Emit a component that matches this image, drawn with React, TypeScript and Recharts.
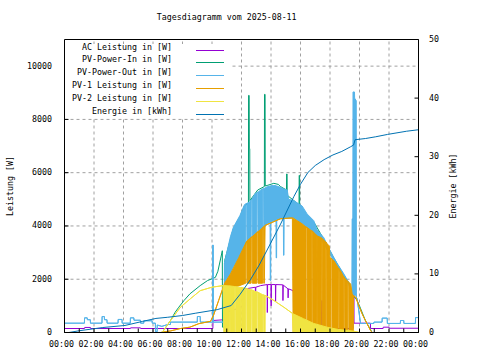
import React from 'react';
import { ComposedChart, Line, Area, XAxis, YAxis, ReferenceLine, ReferenceArea } from 'recharts';

const W = 480;
const H = 360;
const FONT = "'DejaVu Sans Mono', 'Liberation Mono', monospace";
const FS = 8.3;

const chartTitle = 'Tagesdiagramm vom 2025-08-11';
const leftAxisTitle = 'Leistung [W]';
const rightAxisTitle = 'Energie [kWh]';
const seriesNames = [
  'AC Leistung in [W]',
  'PV-Power-In in [W]',
  'PV-Power-Out in [W]',
  'PV-1 Leistung in [W]',
  'PV-2 Leistung in [W]',
  'Energie in [kWh]',
];
const seriesColors = ['#9400d3', '#009e73', '#56b4e9', '#e69f00', '#f0e442', '#0072b2'];

const hourTicks = [0, 1, 2, 3, 4, 5, 6, 7, 8, 9, 10, 11, 12, 13, 14, 15, 16, 17, 18, 19, 20, 21, 22, 23, 24];
const gridHours = [2, 4, 6, 8, 10, 12, 14, 16, 18, 20, 22];
const leftTicks = [0, 2000, 4000, 6000, 8000, 10000];
const gridPower = [2000, 4000, 6000, 8000, 10000];
const rightTicks = [0, 10, 20, 30, 40, 50];

// AC Leistung [W]  [hour, value]
const acPts: [number, number][] = [
  [0, 150], [1.36, 150], [1.37, 190], [1.76, 190], [1.77, 150], [4.47, 150], [4.48, 175], [5.15, 175], [5.16, 150],
  [10.06, 150], [10.07, 450], [10.85, 480], [10.9, 760], [11.37, 820], [12.1, 1000], [12.12, 1640], [12.4, 1650],
  [12.94, 1700], [12.95, 700], [12.97, 1700], [13.3, 1760], [13.74, 1800], [13.75, 750], [13.77, 1800], [14.0, 1800],
  [14.01, 1000], [14.03, 1800], [14.3, 1800], [14.31, 1150], [14.33, 1800], [14.8, 1790], [14.81, 1200], [14.83, 1780],
  [15.15, 1640], [15.16, 1300], [15.18, 1640], [15.5, 1570], [15.6, 1200], [15.8, 300], [16.5, 200], [17.4, 150],
  [17.45, 1200], [17.47, 150], [18.7, 150], [18.72, 700], [18.74, 150], [19.57, 150], [19.58, 2950], [19.62, 2950],
  [19.63, 350], [20.74, 350], [20.75, 150], [21.6, 150], [21.61, 200], [22.0, 200], [22.01, 160], [24, 160],
];

// PV-Power-In [W]
const pvInPts: [number, number][] = [
  [0, 0], [6.62, 0], [7.19, 450], [7.5, 760], [7.75, 950], [8.1, 1200], [8.5, 1450], [9.2, 1760], [9.7, 1950],
  [10.23, 2070], [10.4, 2300], [10.58, 2760], [10.7, 3070], [10.71, 200], [10.84, 200], [10.86, 2700], [11.45, 3900],
  [11.9, 4350], [12.2, 4750], [12.47, 4850], [12.48, 8900], [12.52, 8900], [12.53, 6900], [12.56, 6900], [12.57, 4950],
  [12.9, 5200], [13.1, 5350], [13.55, 5480], [13.56, 8940], [13.6, 8940], [13.61, 5500], [13.74, 5520], [14.19, 5600],
  [14.5, 5560], [14.64, 5480], [15.05, 5350], [15.06, 5950], [15.09, 5950], [15.1, 5150], [15.9, 4800], [15.91, 5900],
  [15.94, 5900], [15.95, 3070], [15.97, 4700], [16.45, 4400], [16.9, 4150], [17.58, 3500], [18.2, 2850], [18.94, 2150],
  [19.28, 1850], [19.5, 1450], [19.84, 1200], [20.0, 1000], [20.4, 450], [20.86, 0], [24, 0],
];

// PV-Power-Out [W]  [hour, upper, lower] (dense oscillation band)
const pvOutPts: [number, number, number][] = [
  [0, 350, 350], [1.35, 350, 350], [1.36, 550, 550], [1.54, 550, 550], [1.55, 480, 480], [1.75, 480, 480], [1.76, 350, 350],
  [2.54, 350, 350], [2.55, 600, 600], [2.7, 600, 600], [2.71, 480, 480], [2.88, 480, 480], [2.89, 350, 350],
  [3.63, 350, 350], [3.64, 490, 490], [3.9, 490, 490], [3.91, 350, 350],
  [4.46, 350, 350], [4.47, 550, 550], [4.7, 550, 550], [4.71, 460, 460], [5.15, 460, 460], [5.16, 350, 350],
  [5.37, 350, 350], [5.38, 440, 440], [5.94, 440, 440], [5.95, 350, 350],
  [6.16, 350, 350], [6.17, 30, 30], [6.28, 30, 30], [6.29, 280, 280], [6.6, 230, 230], [7.0, 300, 300], [7.18, 300, 300],
  [7.19, 390, 390], [9.0, 390, 390], [9.01, 600, 600], [9.2, 600, 600], [9.21, 390, 390],
  [10.04, 390, 390], [10.05, 3280, 3280], [10.08, 3280, 3280], [10.09, 390, 390],
  [10.82, 390, 390], [10.84, 2600, 1800], [11.0, 3000, 2000], [11.25, 3600, 2200], [11.45, 3950, 2450], [11.9, 4400, 2800],
  [12.2, 4800, 3200], [12.29, 4830, 3300], [12.3, 4830, 4830], [12.36, 4850, 4850], [12.37, 4850, 3350],
  [12.55, 4900, 3500], [12.65, 4980, 3560], [12.66, 4980, 4980], [12.72, 5020, 5020], [12.73, 5020, 3600],
  [12.9, 5200, 3700], [13.04, 5250, 3740], [13.05, 5250, 5250], [13.11, 5270, 5270], [13.12, 5270, 3760],
  [13.3, 5350, 3800], [13.43, 5390, 3880], [13.44, 5390, 5390], [13.5, 5400, 5400], [13.51, 5400, 3920],
  [13.74, 5470, 4080],
  [13.94, 5500, 4120], [13.95, 5500, 1950], [13.98, 5500, 1950], [13.99, 5510, 4150],
  [14.19, 5520, 4200],
  [14.34, 5510, 4220], [14.35, 5510, 2800], [14.38, 5500, 2800], [14.39, 5500, 4230],
  [14.64, 5450, 4270],
  [14.84, 5400, 4290], [14.85, 5400, 2900], [14.88, 5390, 2900], [14.89, 5390, 4290],
  [15.1, 5350, 4300], [15.2, 5000, 4300], [15.55, 4950, 4300], [15.77, 4870, 4200], [16.11, 4750, 4080],
  [16.45, 4450, 3940], [16.9, 4200, 3760], [17.13, 3850, 3600], [17.58, 3560, 3350], [17.9, 3190, 3000],
  [18.2, 2880, 2750], [18.5, 2580, 2450], [18.94, 2200, 2050], [19.28, 1870, 1800], [19.48, 1460, 1400],
  [19.5, 4270, 1400], [19.53, 4270, 1400], [19.54, 1460, 1400],
  [19.56, 9030, 1400], [19.66, 9030, 1400], [19.67, 8800, 1400], [19.78, 8700, 1400], [19.79, 1300, 1300], [19.84, 1270, 1270],
  [20.07, 340, 340], [20.97, 340, 340], [20.98, 390, 390], [21.53, 390, 390], [21.54, 540, 540], [21.88, 540, 540],
  [21.89, 340, 340], [22.77, 340, 340], [22.78, 450, 450], [23.0, 450, 450], [23.01, 340, 340], [23.79, 340, 340],
  [23.8, 560, 560], [24, 560, 560],
];

// PV-1 Leistung [W]  [hour, upper, lower]
const pv1Pts: [number, number, number][] = [
  [0, 0, 0], [6.5, 0, 0], [7.2, 60, 60], [7.86, 150, 150], [8.5, 200, 200], [9.1, 330, 330], [9.9, 420, 420],
  [10.1, 640, 640], [10.45, 1200, 1200], [10.8, 1760, 1760], [10.85, 1850, 1700], [11.25, 2200, 1700],
  [11.82, 2820, 1750], [12.29, 3360, 1850], [12.3, 3360, 3360], [12.36, 3420, 3420], [12.37, 3440, 1850],
  [12.65, 3570, 1850], [12.66, 3570, 3570], [12.72, 3600, 3600], [12.73, 3600, 1850],
  [13.04, 3750, 1850], [13.05, 3755, 3755], [13.11, 3780, 3780], [13.12, 3785, 1850],
  [13.43, 3930, 1850], [13.44, 3935, 3935], [13.5, 3970, 3970], [13.51, 3975, 1850],
  [13.55, 4000, 1850], [13.6, 4020, 4020],
  [14.64, 4270, 4270], [15.45, 4300, 4300], [15.5, 4300, 0], [15.77, 4200, 0], [16.11, 4080, 0],
  [16.37, 3960, 0], [16.38, 3960, 3960], [16.44, 3940, 3940], [16.45, 3940, 0],
  [16.75, 3820, 0], [16.76, 3820, 3820], [16.82, 3800, 3800], [16.83, 3800, 0],
  [16.9, 3760, 0],
  [17.08, 3650, 0], [17.09, 3650, 3650], [17.15, 3620, 3620], [17.16, 3620, 0],
  [17.36, 3570, 0],
  [17.41, 3550, 0], [17.42, 3550, 3550], [17.48, 3520, 3520], [17.49, 3520, 0],
  [17.7, 3400, 0], [17.71, 3400, 3400], [17.77, 3360, 3360], [17.78, 3350, 0],
  [17.81, 3330, 0], [17.95, 3250, 0], [18.0, 2800, 0],
  [18.06, 2790, 0], [18.07, 2790, 2790], [18.13, 2760, 2760], [18.14, 2750, 0],
  [18.26, 2700, 0],
  [18.56, 2420, 0], [18.57, 2420, 2420], [18.63, 2380, 2380], [18.64, 2370, 0],
  [18.71, 2320, 0],
  [18.92, 2100, 0], [18.93, 2100, 2100], [18.99, 2050, 2050], [19.0, 2040, 0],
  [19.16, 1950, 0],
  [19.2, 1920, 0], [19.21, 1920, 1920], [19.27, 1880, 1880], [19.28, 1870, 0],
  [19.4, 1830, 0], [19.5, 1460, 0], [19.58, 1380, 0], [19.6, 1380, 1380], [19.75, 1320, 1320],
  [19.95, 1010, 1010], [20.18, 700, 700], [20.4, 450, 450], [20.75, 75, 75], [20.86, 0, 0], [24, 0, 0],
];

// PV-2 Leistung [W]  [hour, upper, lower]
const pv2Pts: [number, number, number][] = [
  [0, 0, 0], [6.62, 0, 0], [7.19, 450, 450], [7.86, 950, 950], [8.54, 1270, 1270], [9.2, 1570, 1570],
  [9.99, 1700, 1700], [10.75, 1760, 1760], [10.8, 1760, 0],
  [11.18, 1750, 0], [11.19, 1750, 1750], [11.25, 1745, 1745], [11.26, 1745, 0],
  [11.53, 1725, 0], [11.54, 1725, 1725], [11.6, 1720, 1720], [11.61, 1720, 0],
  [11.82, 1700, 0],
  [11.93, 1690, 0], [11.94, 1690, 1690], [12.0, 1685, 1685], [12.01, 1685, 0],
  [12.29, 1660, 0], [12.3, 1660, 1660], [12.36, 1650, 1650], [12.37, 1650, 0],
  [12.65, 1600, 0], [12.66, 1600, 1600], [12.72, 1590, 1590], [12.73, 1590, 0],
  [13.04, 1520, 0], [13.05, 1520, 1520], [13.11, 1510, 1510], [13.12, 1510, 0],
  [13.3, 1460, 0],
  [13.43, 1420, 0], [13.44, 1420, 1420], [13.5, 1410, 1410], [13.51, 1410, 0],
  [13.6, 1390, 0], [13.61, 1390, 1390],
  [14.2, 1200, 1200], [14.87, 950, 950], [15.45, 720, 720], [15.5, 700, 0], [16.2, 520, 0], [16.9, 340, 0],
  [17.8, 200, 0], [18.5, 120, 0], [19.5, 60, 0], [19.6, 50, 50], [20.0, 0, 0], [24, 0, 0],
];

// Energie [kWh]
const energyPts: [number, number][] = [
  [0, 0], [0.3, 0], [1.0, 0.3], [2.6, 0.85], [4.1, 1.2], [5.3, 1.9], [6.2, 2.4], [7.0, 2.6], [8.0, 2.9], [8.9, 3.3],
  [10.35, 3.9], [11.3, 4.6], [11.9, 6.5], [12.6, 9.0], [13.2, 11.5], [13.7, 13.9], [14.65, 18.5], [15.55, 23.2],
  [16.0, 25.3], [16.5, 27.3], [17.0, 28.5], [17.6, 29.5], [18.2, 30.3], [18.8, 30.9], [19.4, 31.7], [19.6, 32.0],
  [19.7, 32.9], [20.4, 33.1], [21.1, 33.4], [21.9, 33.8], [23.2, 34.35], [24, 34.6],
];

const hhmm = (h: number) => `${String(h % 24).padStart(2, '0')}:00`;

const XTick = (props: any) => {
  const { x, y, payload } = props;
  if (payload.value % 2 !== 0) return <g />;
  return (
    <text x={x - 3} y={y} textAnchor="middle" fontFamily={FONT} fontSize={FS} fill="#000">
      {hhmm(payload.value)}
    </text>
  );
};
const LTick = (props: any) => {
  const { x, y, payload } = props;
  return (
    <text x={x} y={y + 2.5} textAnchor="end" fontFamily={FONT} fontSize={FS} fill="#000">
      {payload.value}
    </text>
  );
};
const RTick = (props: any) => {
  const { x, y, payload } = props;
  return (
    <text x={x} y={y + 2.5} textAnchor="start" fontFamily={FONT} fontSize={FS} fill="#000">
      {payload.value}
    </text>
  );
};

const legendBaselines = [49.5, 62.4, 75.2, 88.1, 100.9, 113.8];

export default function App() {
  const acData = acPts.map(([t, v]) => ({ t, v }));
  const pvInData = pvInPts.map(([t, v]) => ({ t, v }));
  const pvOutData = pvOutPts.map(([t, hi, lo]) => ({ t, v: [lo, hi] }));
  const pv1Data = pv1Pts.map(([t, hi, lo]) => ({ t, v: [lo, hi] }));
  const pv2Data = pv2Pts.map(([t, hi, lo]) => ({ t, v: [lo, hi] }));
  const energyData = energyPts.map(([t, v]) => ({ t, v }));

  return (
    <div style={{ position: 'absolute', left: 0, top: 0, width: W, height: H, background: '#fff' }}>
      <ComposedChart width={W} height={H} margin={{ top: 39.5, right: 0, bottom: 0, left: 0 }}>
        <XAxis
          xAxisId="b"
          type="number"
          dataKey="t"
          domain={[0, 24]}
          ticks={hourTicks}
          interval={0}
          allowDataOverflow
          height={27.5}
          axisLine={false}
          stroke="#000"
          tickLine={{ stroke: '#000' }}
          tickSize={-4}
          tickMargin={18.5}
          tick={XTick}
        />
        <XAxis
          xAxisId="t"
          orientation="top"
          type="number"
          dataKey="t"
          domain={[0, 24]}
          ticks={hourTicks}
          interval={0}
          allowDataOverflow
          height={0}
          axisLine={false}
          stroke="#000"
          tickLine={{ stroke: '#000' }}
          tickSize={-4}
          tick={false}
        />
        <YAxis
          yAxisId="l"
          type="number"
          domain={[0, 11000]}
          ticks={leftTicks}
          interval={0}
          allowDataOverflow
          width={64.5}
          axisLine={false}
          stroke="#000"
          tickLine={{ stroke: '#000' }}
          tickSize={-4}
          tickMargin={16.5}
          tick={LTick}
        />
        <YAxis
          yAxisId="r"
          orientation="right"
          type="number"
          domain={[0, 50]}
          ticks={rightTicks}
          interval={0}
          allowDataOverflow
          width={61.5}
          axisLine={false}
          stroke="#000"
          tickLine={{ stroke: '#000' }}
          tickSize={-4}
          tickMargin={14.5}
          tick={RTick}
        />
        {gridHours.map((h) => (
          <ReferenceLine key={'gx' + h} xAxisId="b" yAxisId="l" x={h} stroke="#a0a0a0" strokeDasharray="3 3" zIndex={1} />
        ))}
        {gridPower.map((p) => (
          <ReferenceLine key={'gy' + p} xAxisId="b" yAxisId="l" y={p} stroke="#a0a0a0" strokeDasharray="3 3" zIndex={1} />
        ))}
        <Line xAxisId="b" yAxisId="l" data={acData} dataKey="v" type="linear" stroke={seriesColors[0]} strokeWidth={1} dot={false} isAnimationActive={false} zIndex={101} />
        <Line xAxisId="b" yAxisId="l" data={pvInData} dataKey="v" type="linear" stroke={seriesColors[1]} strokeWidth={1} dot={false} isAnimationActive={false} zIndex={102} />
        <Area xAxisId="b" yAxisId="l" data={pvOutData} dataKey="v" type="linear" stroke={seriesColors[2]} fill={seriesColors[2]} fillOpacity={1} strokeWidth={1} dot={false} activeDot={false} isAnimationActive={false} zIndex={103} />
        <Area xAxisId="b" yAxisId="l" data={pv1Data} dataKey="v" type="linear" stroke={seriesColors[3]} fill={seriesColors[3]} fillOpacity={1} strokeWidth={1} dot={false} activeDot={false} isAnimationActive={false} zIndex={104} />
        <Area xAxisId="b" yAxisId="l" data={pv2Data} dataKey="v" type="linear" stroke={seriesColors[4]} fill={seriesColors[4]} fillOpacity={1} strokeWidth={1} dot={false} activeDot={false} isAnimationActive={false} zIndex={105} />
        <Line xAxisId="b" yAxisId="r" data={energyData} dataKey="v" type="linear" stroke={seriesColors[5]} strokeWidth={1} dot={false} isAnimationActive={false} zIndex={106} />
        <ReferenceArea xAxisId="b" yAxisId="l" x1={0} x2={24} y1={0} y2={11000} fill="none" fillOpacity={0} stroke="#000" strokeWidth={1} zIndex={600} />
      </ComposedChart>
      <svg width={W} height={H} style={{ position: 'absolute', left: 0, top: 0, pointerEvents: 'none' }}>
        <text x={226.7} y={20} textAnchor="middle" fontFamily={FONT} fontSize={FS} fill="#000">
          {chartTitle}
        </text>
        <text x={12.5} y={186} transform="rotate(-90 12.5 186)" textAnchor="middle" fontFamily={FONT} fontSize={FS} fill="#000">
          {leftAxisTitle}
        </text>
        <text x={455.5} y={186} transform="rotate(-90 455.5 186)" textAnchor="middle" fontFamily={FONT} fontSize={FS} fill="#000">
          {rightAxisTitle}
        </text>
        <rect x={65} y={44} width={165} height={73} fill="#fff" />
        {seriesNames.map((name, i) => (
          <g key={name}>
            <text x={172} y={legendBaselines[i]} textAnchor="end" fontFamily={FONT} fontSize={FS} fill="#000">
              {name}
            </text>
            <line x1={196} x2={224} y1={Math.round(legendBaselines[i]) + 0.5} y2={Math.round(legendBaselines[i]) + 0.5} stroke={seriesColors[i]} strokeWidth={1} />
          </g>
        ))}
      </svg>
    </div>
  );
}
